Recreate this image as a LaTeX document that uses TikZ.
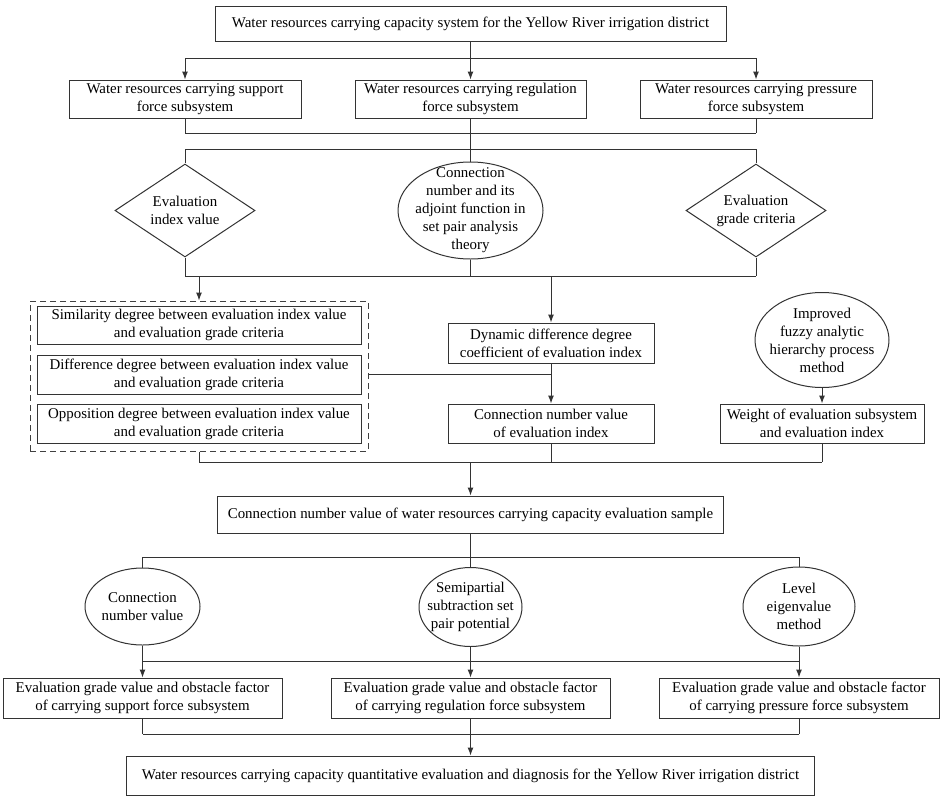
\documentclass[tikz,border=0pt]{standalone}
\usepackage{fontspec}
\setmainfont{Liberation Serif}
\usepackage{tikz}
\usetikzlibrary{arrows}
\usetikzlibrary{arrows.meta}
\usetikzlibrary{positioning}
\usetikzlibrary{shapes.geometric}

\begin{document}
\begin{tikzpicture}[x=1pt, y=-1pt, >={Latex[length=8pt,width=6pt]}, line width=1pt,
    font=\fontsize{14.9}{18}\selectfont,
    box/.style={draw=black!80, align=center, inner sep=0pt},
    dashbox/.style={draw=black!75, dashed, dash pattern=on 6pt off 4pt, inner sep=0pt},
    rhomb/.style={diamond, draw=black!80, align=center, inner sep=0pt, aspect=1.5},
    oval/.style={ellipse, draw=black!80, align=center, inner sep=-15pt}] % Flow chart

      \useasboundingbox (0,0) rectangle (941,798);

      % buses
      \coordinate (busA) at (0,58);
      \coordinate (busB) at (0,133);
      \coordinate (busC) at (0,149);
      \coordinate (busD) at (0,276);
      \coordinate (busE) at (0,462);
      \coordinate (busF) at (0,557);
      \coordinate (busG) at (0,661);
      \coordinate (busH) at (0,734);

      \node [box, minimum width=511, minimum height=35] (top) at (470.5,23.5)
        {Water resources carrying capacity system for the Yellow River irrigation district};

      \node [box, minimum width=232, minimum height=38] (sup) at (185,99)
        {Water resources carrying support\\force subsystem};
      \node [box, minimum width=231, minimum height=38] (reg) at (470.5,99)
        {Water resources carrying regulation\\force subsystem};
      \node [box, minimum width=232, minimum height=38] (pre) at (756,99)
        {Water resources carrying pressure\\force subsystem};

      \node [rhomb, minimum width=140, minimum height=93] (evi) at (185,210.5)
        {Evaluation\\index value};
      \node [oval, minimum width=145, minimum height=97] (adj) at (470.5,210.5)
        {Connection\\number and its\\adjoint function in\\set pair analysis\\theory};
      \node [rhomb, minimum width=140, minimum height=93] (egc) at (756,210.5)
        {Evaluation\\grade criteria};

      \node [dashbox, minimum width=338, minimum height=150] (grp) at (199,376) {};
      \node [box, minimum width=324, minimum height=38] (sim) at (199,325)
        {Similarity degree between evaluation index value\\and evaluation grade criteria};
      \node [box, minimum width=324, minimum height=39] (dif) at (199,374.5)
        {Difference degree between evaluation index value\\and evaluation grade criteria};
      \node [box, minimum width=324, minimum height=39] (opp) at (199,423.5)
        {Opposition degree between evaluation index value\\and evaluation grade criteria};

      \node [box, minimum width=206, minimum height=40] (dyn) at (551,343)
        {Dynamic difference degree\\coefficient of evaluation index};
      \node [box, minimum width=206, minimum height=39] (cnv) at (551,423.5)
        {Connection number value\\of evaluation index};
      \node [oval, minimum width=134, minimum height=95] (imp) at (822,340)
        {Improved\\fuzzy analytic\\hierarchy process\\method};
      \node [box, minimum width=204, minimum height=39] (wgt) at (822,423.5)
        {Weight of evaluation subsystem\\and evaluation index};

      \node [box, minimum width=506, minimum height=37] (smp) at (470.5,514.5)
        {Connection number value of water resources carrying capacity evaluation sample};

      \node [oval, minimum width=115, minimum height=77] (cv) at (142.5,606.5)
        {Connection\\number value};
      \node [oval, minimum width=103, minimum height=79] (spp) at (470.5,607)
        {Semipartial\\subtraction set\\pair potential};
      \node [oval, minimum width=112, minimum height=79] (lev) at (799,606.5)
        {Level\\eigenvalue\\method};

      \node [box, minimum width=279, minimum height=40] (ogs) at (142.5,698)
        {Evaluation grade value and obstacle factor\\of carrying support force subsystem};
      \node [box, minimum width=279, minimum height=40] (ogr) at (470.5,698)
        {Evaluation grade value and obstacle factor\\of carrying regulation force subsystem};
      \node [box, minimum width=280, minimum height=40] (ogp) at (799,698)
        {Evaluation grade value and obstacle factor\\of carrying pressure force subsystem};

      \node [box, minimum width=688, minimum height=39] (fin) at (470.5,775.5)
        {Water resources carrying capacity quantitative evaluation and diagnosis for the Yellow River irrigation district};

      \begin{scope}[draw=black!80]
      \draw (top) -- (top |- busA);
      \draw (sup |- busA) -- (pre |- busA);
      \foreach \n in {sup,reg,pre}
        \draw [->] (\n |- busA) -- (\n);

      \foreach \n in {sup,reg,pre}
        \draw (\n) -- (\n |- busB);
      \draw (sup |- busB) -- (pre |- busB);
      \draw (reg |- busB) -- (reg |- busC);
      \draw (evi |- busC) -- (egc |- busC);
      \foreach \n in {evi,adj,egc}
        \draw (\n |- busC) -- (\n);

      \foreach \n in {evi,adj,egc}
        \draw (\n) -- (\n |- busD);
      \draw (evi |- busD) -- (egc |- busD);
      \draw [->] (grp |- busD) -- (grp);
      \draw [->] (dyn |- busD) -- (dyn);
      \draw [->] (dyn) -- (cnv);
      \draw (grp.east |- dif) -- (dyn |- dif);
      \draw [->] (imp) -- (wgt);

      \foreach \n in {grp,cnv,wgt}
        \draw (\n) -- (\n |- busE);
      \draw (grp |- busE) -- (wgt |- busE);
      \draw [->] (smp |- busE) -- (smp);

      \draw (smp) -- (smp |- busF);
      \draw (cv |- busF) -- (lev |- busF);
      \foreach \n in {cv,spp,lev}
        \draw (\n |- busF) -- (\n);

      \draw [->] (cv) -- (ogs);
      \draw [->] (spp) -- (ogr);
      \draw [->] (lev) -- (ogp);
      \draw (cv |- busG) -- (lev |- busG);

      \foreach \n in {ogs,ogr,ogp}
        \draw (\n) -- (\n |- busH);
      \draw (ogs |- busH) -- (ogp |- busH);
      \draw [->] (fin |- busH) -- (fin);
      \end{scope}

    \end{tikzpicture}
\end{document}
